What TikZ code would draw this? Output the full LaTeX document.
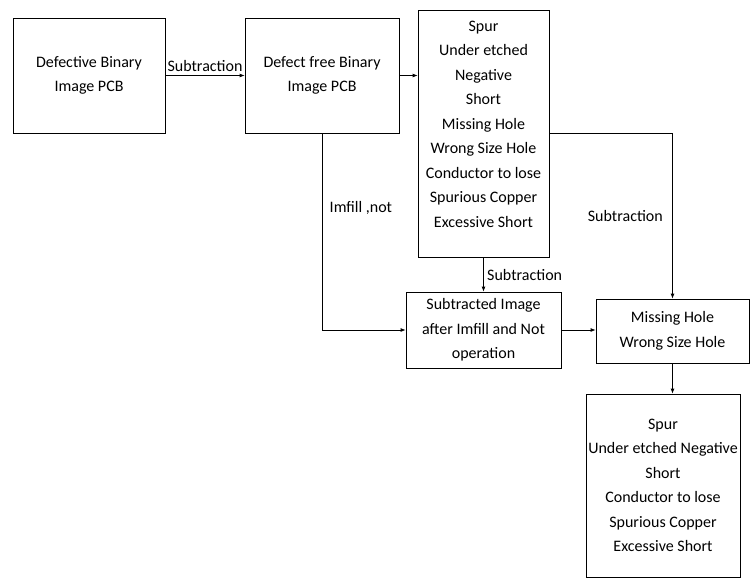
\documentclass[tikz,border=0pt]{standalone}
\usepackage{fontspec}
\setmainfont{Carlito}
\usetikzlibrary{arrows.meta}
\begin{document}
\begin{tikzpicture}[x=1pt,y=-1pt,line width=0.8pt,
    >={Latex[length=5pt,width=4pt]},
    box/.style={draw,align=center,inner sep=2pt,font=\fontsize{16}{24.5}\selectfont},
    lbl/.style={font=\fontsize{16}{20}\selectfont}]
  \useasboundingbox (0,0) rectangle (754,581);

  \node (defective) [box,minimum width=152pt,minimum height=115pt] at (89,75.5)   {Defective Binary\\Image PCB};
  \node (free)      [box,minimum width=154pt,minimum height=115pt] at (322,75.5)  {Defect free Binary\\Image PCB};
  \node (defects)   [box,minimum width=131pt,minimum height=247pt] at (483.5,133.5)
    {Spur\\Under etched\\Negative\\Short\\Missing Hole\\Wrong Size Hole\\Conductor to lose\\Spurious Copper\\Excessive Short\\[-6pt]\mbox{}};
  \node (subimg)    [box,minimum width=155pt,minimum height=76pt]  at (483.5,330) {Subtracted Image\\after Imfill and Not\\operation};
  \node (holes)     [box,minimum width=153pt,minimum height=64pt]  at (672.5,331) {Missing Hole\\Wrong Size Hole};
  \node (rest)      [box,minimum width=154pt,minimum height=183pt] at (663,485.5)
    {Spur\\Under etched Negative\\Short\\Conductor to lose\\Spurious Copper\\Excessive Short};

  \draw [->] (defective) to node [lbl,above] {Subtraction} (free);
  \draw [->] (free.east) to (free.east -| defects.west);
  \draw [->] (free.south) |- node [lbl,right,pos=0.19,xshift=4pt] {Imfill ,not} (subimg.west);
  \draw [->] (defects.south) to node [lbl,right] {Subtraction} (subimg.north);
  \draw [->] (subimg.east) to (subimg.east -| holes.west);
  \draw [->] (defects.east) -| node [lbl,left,pos=0.75,xshift=-6pt] {Subtraction} (holes.north);
  \draw [->] (holes.south) to (holes.south |- rest.north);
\end{tikzpicture}
\end{document}
